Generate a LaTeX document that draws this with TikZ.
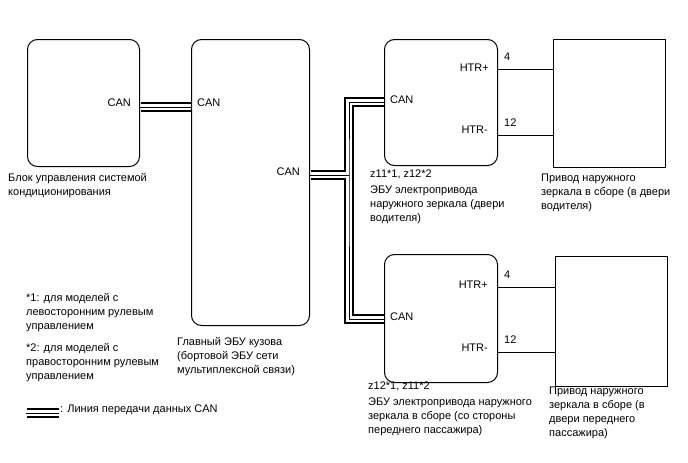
\documentclass[tikz,border=0pt]{standalone}
\usepackage{fontspec}
\setmainfont{Liberation Sans}
\usepackage{tikz}

\begin{document}
\begin{tikzpicture}[x=1pt, y=-1pt,
    ecu/.style={draw, line width=1pt, rounded corners=10pt, anchor=north west, inner sep=0pt},
    unit/.style={draw, line width=1pt, anchor=north west, inner sep=0pt},
    lbl/.style={inner sep=0pt, font=\fontsize{11}{13}\selectfont},
    txt/.style={anchor=north west, inner sep=0pt, align=left, font=\fontsize{11}{14}\selectfont},
    pinno/.style={anchor=south west, inner sep=0pt, xshift=6pt, yshift=8pt, font=\fontsize{11}{13}\selectfont},
    wire/.style={line width=0.7pt},
    canbus/.style={line width=1pt, preaction={draw, line width=1.6pt, double=white, double distance=6pt, shorten <=0.5pt, shorten >=0.5pt}},
    cantee/.style={line width=1pt, preaction={draw, line width=1.6pt, double=white, double distance=6pt, shorten <=0.5pt, shorten >=3pt}}]

    \useasboundingbox (0,0) rectangle (688,463);

    \node[ecu, minimum width=112pt, minimum height=127pt] (ac) at (27,39) {};

    \node[ecu, minimum width=118pt, minimum height=286pt] (bcm) at (191,39) {};

    \node[ecu, minimum width=113pt, minimum height=126pt] (drvecu) at (384,39) {};

    \node[unit, minimum width=112pt, minimum height=128pt] (drvmot) at (553,39) {};

    \node[ecu, minimum width=113pt, minimum height=128pt] (pasecu) at (384,254) {};

    \node[unit, minimum width=112pt, minimum height=130pt] (pasmot) at (555,256) {};


    \node[lbl, anchor=east] (accan) at (131,103) {CAN};

    \node[lbl, anchor=west] (bcmcanl) at (197,103) {CAN};

    \node[lbl, anchor=east] (bcmcanr) at (300,172) {CAN};

    \node[lbl, anchor=west] (drvcan) at (390,100) {CAN};

    \node[lbl, anchor=east] (drvhp) at (489,68) {HTR+};

    \node[lbl, anchor=east] (drvhm) at (488,130) {HTR-};

    \node[lbl, anchor=west] (pascan) at (390,317) {CAN};

    \node[lbl, anchor=east] (pashp) at (488,285) {HTR+};

    \node[lbl, anchor=east] (pashm) at (488,348) {HTR-};


    \draw[canbus] (ac.east |- 0,107) -- (bcm.west |- 0,107);

    \coordinate (tee) at (349,175);

    \draw[canbus] (drvecu.west |- 0,102) -| (tee) |- (pasecu.west |- 0,319);

    \draw[cantee] (bcm.east |- tee) -- (tee);


    \coordinate (drvp) at (drvecu.east |- 0,69);

    \coordinate (drvm) at (drvecu.east |- 0,135);

    \coordinate (pasp) at (pasecu.east |- 0,287);

    \coordinate (pasm) at (pasecu.east |- 0,352);

    \draw[wire] (drvp) -- (drvp -| drvmot.west);

    \draw[wire] (drvm) -- (drvm -| drvmot.west);

    \draw[wire] (pasp) -- (pasp -| pasmot.west);

    \draw[wire] (pasm) -- (pasm -| pasmot.west);

    \node[pinno] (drvp4) at (drvp) {4};

    \node[pinno] (drvm12) at (drvm) {12};

    \node[pinno] (pasp4) at (pasp) {4};

    \node[pinno] (pasm12) at (pasm) {12};


    \node[txt] (acname) at (8,173) {Блок управления системой\\кондиционирования};

    \node[txt] (bcmname) at (177,337) {Главный ЭБУ кузова\\(бортовой ЭБУ сети\\мультиплексной связи)};

    \node[txt] (drvcode) at (370,170) {z11*1, z12*2};

    \node[txt] (drvname) at (370,186) {ЭБУ электропривода\\наружного зеркала (двери\\водителя)};

    \node[txt] (drvmotname) at (541,174) {Привод наружного\\зеркала в сборе (в двери\\водителя)};

    \node[txt] (pascode) at (368,382) {z12*1, z11*2};

    \node[txt] (pasname) at (368,398) {ЭБУ электропривода наружного\\зеркала в сборе (со стороны\\переднего пассажира)};

    \node[txt] (pasmotname) at (549,387) {Привод наружного\\зеркала в сборе (в\\двери переднего\\пассажира)};

    \node[txt] (note1) at (26,293) {*1: для моделей с\\левосторонним рулевым\\управлением};

    \node[txt] (note2) at (26,343) {*2: для моделей с\\правосторонним рулевым\\управлением};


    \node[lbl, anchor=west] (legend) at (60,410) {: Линия передачи данных CAN};

    \draw[canbus] ([xshift=-34pt, yshift=-3pt]legend.west) -- ([xshift=-1pt, yshift=-3pt]legend.west);

\end{tikzpicture}
\end{document}
